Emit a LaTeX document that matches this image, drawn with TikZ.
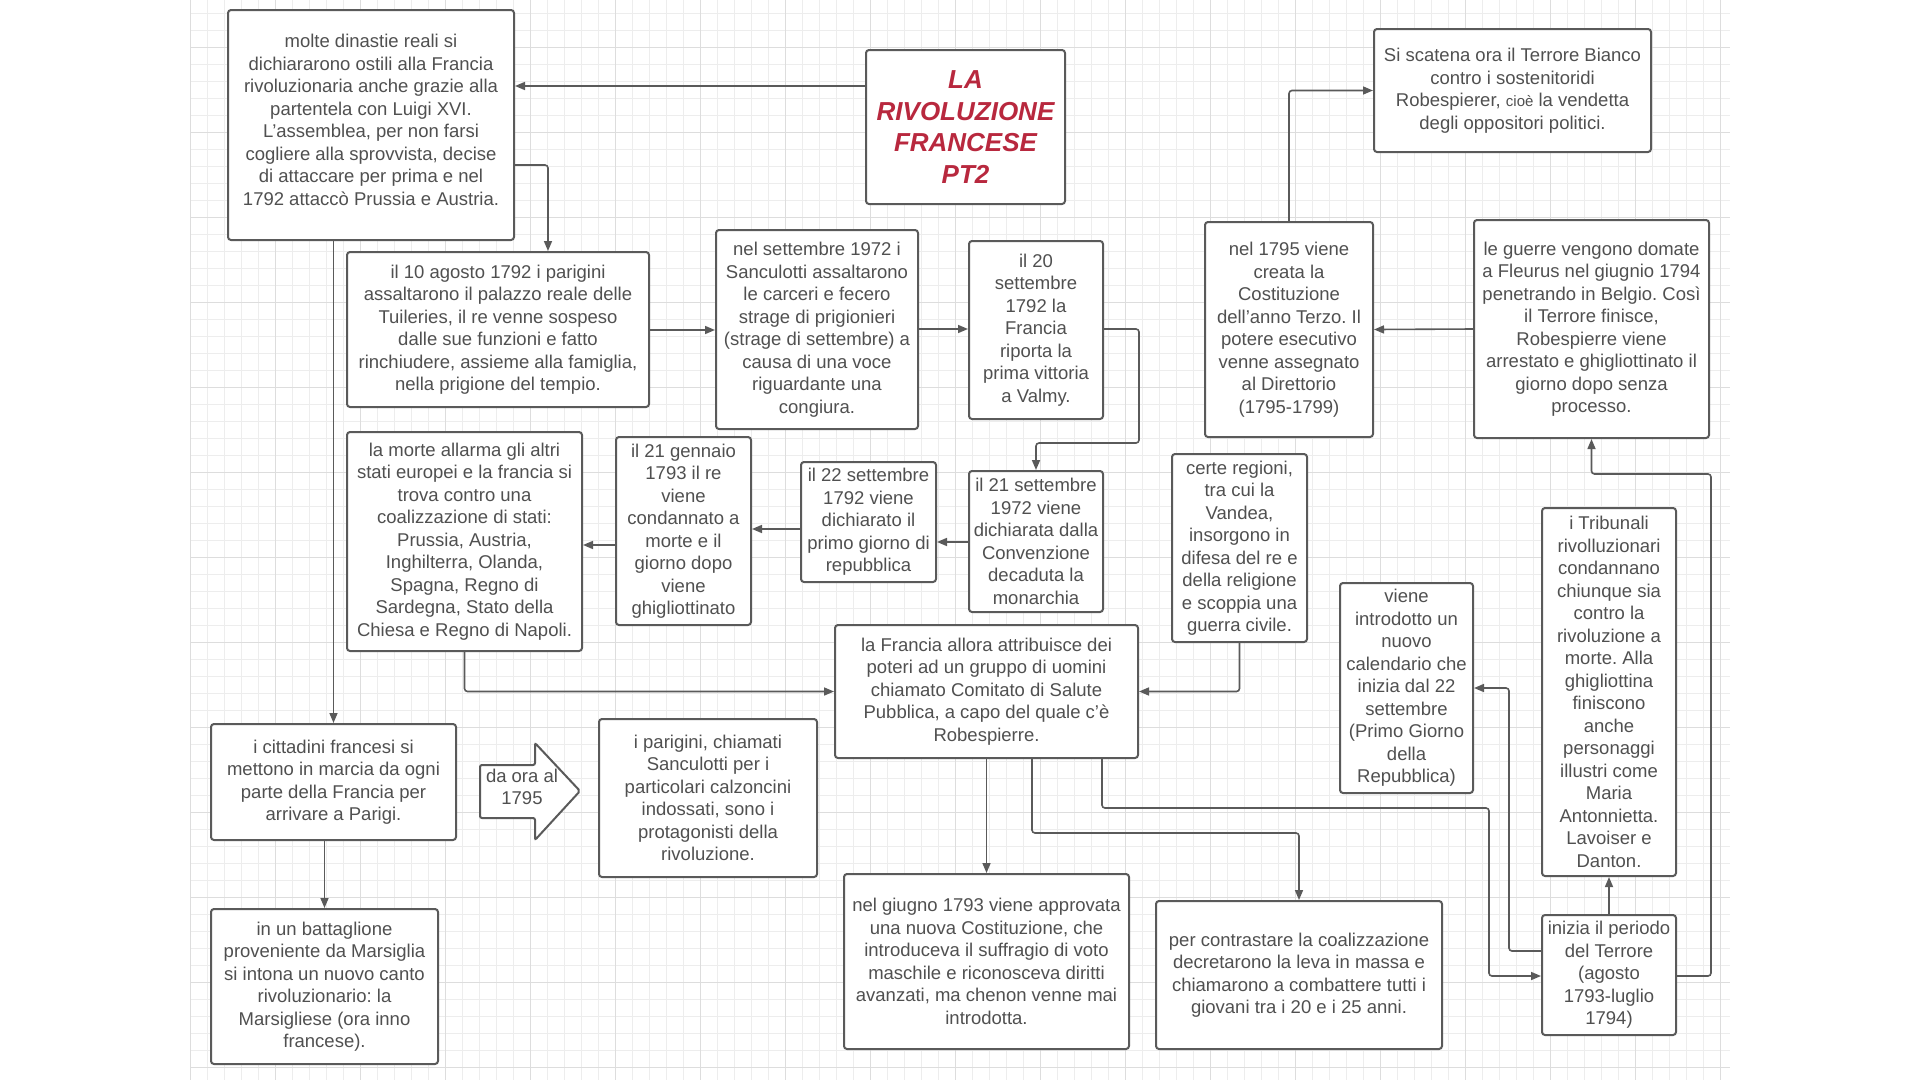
\documentclass[tikz,border=0pt]{standalone}
\usepackage{fontspec}
\setmainfont{Liberation Sans}
\usetikzlibrary{arrows.meta}
\definecolor{txt}{HTML}{505050}
\definecolor{edge}{HTML}{5A5A5A}
\definecolor{gridminor}{HTML}{EDEDED}
\definecolor{gridmajor}{HTML}{DDDDDD}
\definecolor{titlered}{HTML}{B8283E}
\begin{document}
\frenchspacing
\begin{tikzpicture}[x=1pt,y=-1pt,
  box/.style={draw=edge, line width=2pt, rounded corners=3pt, fill=white, align=center,
    text=txt, font=\fontsize{18.5}{22.5}\selectfont, inner sep=1pt},
  conn/.style={draw=edge, line width=1.6pt, rounded corners=3pt, -{Triangle[length=10pt,width=8pt]}},
  gminor/.style={draw=gridminor, line width=0.8pt},
  gmajor/.style={draw=gridmajor, line width=1pt}
]
\useasboundingbox (0,0) rectangle (1920,1080);
\fill[white] (0,0) rectangle (1920,1080);
% grid
\foreach \i in {0,...,90} {\draw[gminor] ({190+17*\i},0) -- ({190+17*\i},1080);}
\foreach \j in {0,...,63} {\draw[gminor] (190,{13+17*\j}) -- (1730,{13+17*\j});}
\foreach \i in {0,...,18} {\draw[gmajor] ({190+85*\i},0) -- ({190+85*\i},1080);}
\foreach \j in {0,...,12} {\draw[gmajor] (190,{47+85*\j}) -- (1730,{47+85*\j});}

% nodes
\node[box, minimum width=286, minimum height=230] (A) at (371,125)
 {molte dinastie reali si\\dichiararono ostili alla Francia\\rivoluzionaria anche grazie alla\\partentela con Luigi XVI.\\L'assemblea, per non farsi\\cogliere alla sprovvista, decise\\di attaccare per prima e nel\\1792 attaccò Prussia e Austria.\\[-12pt]\mbox{}};
\node[box, minimum width=199, minimum height=154, text=titlered,
  font=\fontsize{26}{31.4}\selectfont\bfseries\itshape] (title) at (965.5,127)
 {LA\\RIVOLUZIONE\\FRANCESE\\PT2};
\node[box, minimum width=277, minimum height=123] (tb) at (1512.5,90.5)
 {Si scatena ora il Terrore Bianco\\contro i sostenitoridi\\Robespierer, {\fontsize{15}{22.5}\selectfont cioè} la vendetta\\degli oppositori politici.};
\node[box, minimum width=302, minimum height=155] (B) at (498,329.5)
 {il 10 agosto 1792 i parigini\\assaltarono il palazzo reale delle\\Tuileries, il re venne sospeso\\dalle sue funzioni e fatto\\rinchiudere, assieme alla famiglia,\\nella prigione del tempio.};
\node[box, minimum width=202, minimum height=199] (C) at (817,329.5)
 {nel settembre 1972 i\\Sanculotti assaltarono\\le carceri e fecero\\strage di prigionieri\\(strage di settembre) a\\causa di una voce\\riguardante una\\congiura.};
\node[box, minimum width=134, minimum height=178] (D) at (1036,330)
 {il 20\\settembre\\1792 la\\Francia\\riporta la\\prima vittoria\\a Valmy.};
\node[box, minimum width=168, minimum height=215] (N) at (1289,329.5)
 {nel 1795 viene\\creata la\\Costituzione\\dell'anno Terzo. Il\\potere esecutivo\\venne assegnato\\al Direttorio\\(1795-1799)};
\node[box, minimum width=235, minimum height=218] (O) at (1591.5,329)
 {le guerre vengono domate\\a Fleurus nel giugnio 1794\\penetrando in Belgio. Così\\il Terrore finisce,\\Robespierre viene\\arrestato e ghigliottinato il\\giorno dopo senza\\processo.};
\node[box, minimum width=235, minimum height=219] (H) at (464.5,541.5)
 {la morte allarma gli altri\\stati europei e la francia si\\trova contro una\\coalizzazione di stati:\\Prussia, Austria,\\Inghilterra, Olanda,\\Spagna, Regno di\\Sardegna, Stato della\\Chiesa e Regno di Napoli.};
\node[box, minimum width=135, minimum height=188] (G) at (683.5,531)
 {il 21 gennaio\\1793 il re\\viene\\condannato a\\morte e il\\giorno dopo\\viene\\ghigliottinato};
\node[box, minimum width=135, minimum height=120] (F) at (868.5,522)
 {il 22 settembre\\1792 viene\\dichiarato il\\primo giorno di\\repubblica};
\node[box, minimum width=134, minimum height=141] (E) at (1036,541.5)
 {il 21 settembre\\1972 viene\\dichiarata dalla\\Convenzione\\decaduta la\\monarchia};
\node[box, minimum width=135, minimum height=188] (J) at (1239.5,548)
 {certe regioni,\\tra cui la\\Vandea,\\insorgono in\\difesa del re e\\della religione\\e scoppia una\\guerra civile.};
\node[box, minimum width=303, minimum height=133] (I) at (986.5,691.5)
 {la Francia allora attribuisce dei\\poteri ad un gruppo di uomini\\chiamato Comitato di Salute\\Pubblica, a capo del quale c'è\\Robespierre.};
\node[box, minimum width=133, minimum height=210] (K) at (1406.5,688)
 {viene\\introdotto un\\nuovo\\calendario che\\inizia dal 22\\settembre\\(Primo Giorno\\della\\Repubblica)};
\node[box, minimum width=134, minimum height=368] (P) at (1609,692)
 {i Tribunali\\rivolluzionari\\condannano\\chiunque sia\\contro la\\rivoluzione a\\morte. Alla\\ghigliottina\\finiscono\\anche\\personaggi\\illustri come\\Maria\\Antonnietta.\\Lavoiser e\\Danton.};
\node[box, minimum width=245, minimum height=116] (Q) at (333.5,782)
 {i cittadini francesi si\\mettono in marcia da ogni\\parte della Francia per\\arrivare a Parigi.};
\node[box, minimum width=218, minimum height=158] (R) at (708,798)
 {i parigini, chiamati\\Sanculotti per i\\particolari calzoncini\\indossati, sono i\\protagonisti della\\rivoluzione.};
\node[box, minimum width=227, minimum height=155] (S) at (324.5,986.5)
 {in un battaglione\\proveniente da Marsiglia\\si intona un nuovo canto\\rivoluzionario: la\\Marsigliese (ora inno\\francese).};
\node[box, minimum width=285, minimum height=175] (L) at (986.5,961.5)
 {nel giugno 1793 viene approvata\\una nuova Costituzione, che\\introduceva il suffragio di voto\\maschile e riconosceva diritti\\avanzati, ma chenon venne mai\\introdotta.};
\node[box, minimum width=286, minimum height=148] (M) at (1299,975)
 {per contrastare la coalizzazione\\decretarono la leva in massa e\\chiamarono a combattere tutti i\\giovani tra i 20 e i 25 anni.};
\node[box, minimum width=134, minimum height=120] (T) at (1609,975)
 {inizia il periodo\\del Terrore\\(agosto\\1793-luglio\\1794)};

% block arrow "da ora al 1795"
\draw[draw=edge, line width=2pt, fill=white, rounded corners=2pt]
  (480,765) -- (535,765) -- (535,743) -- (580,791) -- (535,840) -- (535,818) -- (480,818) -- cycle;
\node[text=txt, font=\fontsize{18.5}{22.5}\selectfont, align=center, inner sep=0pt] (daora) at (522,787)
 {da ora al\\1795};

% connectors
\draw[conn] (title.west |- 0,86) -- (A.east |- 0,86);
\draw[conn] (A.east |- 0,165) -| (B.north -| 548,0);
\draw[conn] (A.south -| Q.north) -- (Q.north);
\draw[conn] (Q.south -| S.north) -- (S.north);
\draw[conn] (B.east |- 0,330) -- (C.west |- 0,330);
\draw[conn] (C.east |- 0,329) -- (D.west |- 0,329);
\draw[conn] (D.east |- 0,329) -| (1139,443) -| (E.north);
\draw[conn] (E.west |- 0,542) -- (F.east |- 0,542);
\draw[conn] (F.west |- 0,529) -- (G.east |- 0,529);
\draw[conn] (G.west |- 0,545) -- (H.east |- 0,545);
\draw[conn] (H.south) |- (I.west);
\draw[conn] (J.south) |- (I.east);
\draw[conn] (I.south) -- (L.north);
\draw[conn] (I.south -| 1032,0) |- (M.north |- 0,833) -- (M.north);
\draw[conn] (I.south -| 1102,0) |- (1489,808) |- (T.west |- 0,976);
\draw[conn] (T.west |- 0,951) -| (1509,688) -- (K.east);
\draw[conn] (T.north) -- (P.south);
\draw[conn] (T.east |- 0,976) -| (1711,474) -| (O.south);
\draw[conn] (O.west) -- (N.east);
\draw[conn] (N.north) |- (tb.west);
\end{tikzpicture}
\end{document}
